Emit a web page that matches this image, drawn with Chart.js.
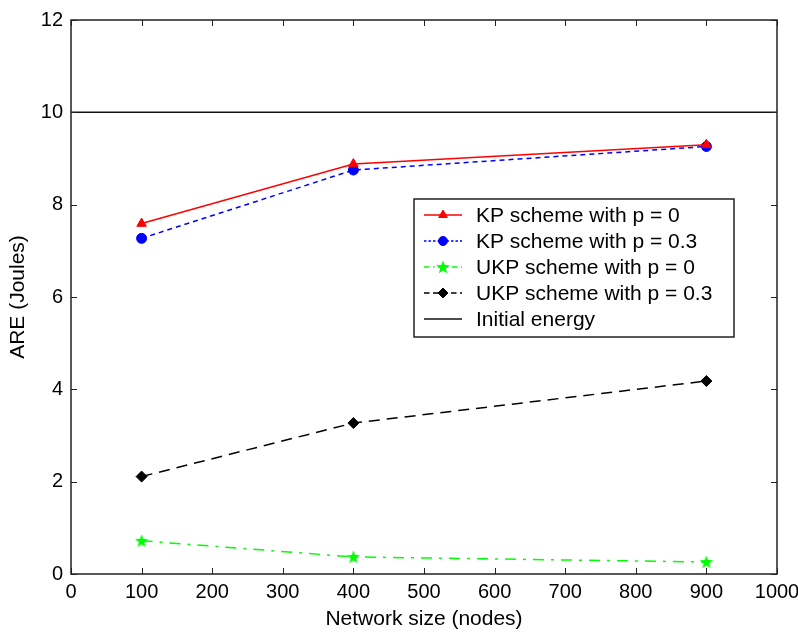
<!DOCTYPE html>
<html>
<head>
<meta charset="utf-8">
<title>ARE vs network size</title>
<script src="https://cdn.jsdelivr.net/npm/chart.js@4.4.1/dist/chart.umd.min.js"></script>
<style>
  html, body { margin: 0; padding: 0; background: #fff; }
  canvas { display: block; }
</style>
</head>
<body>
<canvas id="areChart" width="798" height="633"></canvas>
<script>
// ====== Data ======
const networkSize = [100, 400, 900];
const kpP0 = [7.59, 8.88, 9.30];
const kpP03 = [7.27, 8.75, 9.26];
const ukpP0 = [0.72, 0.37, 0.26];
const ukpP03 = [2.11, 3.27, 4.18];
const energyX = [0, 1000];
const energyY = [10, 10];

const xTicks = [0, 100, 200, 300, 400, 500, 600, 700, 800, 900, 1000];
const yTicks = [0, 2, 4, 6, 8, 10, 12];

const FONT = "'Liberation Sans', Arial, sans-serif";

const toPoints = (xs, ys) => xs.map((x, i) => ({ x, y: ys[i] }));

// filled five point star used as the green marker
const makeStar = (color) => {
  const c = document.createElement("canvas");
  c.width = 16;
  c.height = 16;
  const g = c.getContext("2d");
  g.fillStyle = color;
  g.beginPath();
  for (let i = 0; i < 10; i++) {
    const r = i % 2 === 0 ? 7 : 3;
    const a = -Math.PI / 2 + (i * Math.PI) / 5;
    const px = 8 + r * Math.cos(a);
    const py = 8.5 + r * Math.sin(a);
    if (i === 0) g.moveTo(px, py);
    else g.lineTo(px, py);
  }
  g.closePath();
  g.fill();
  return c;
};
const greenStar = makeStar("#00ff00");

const datasets = [
  {
    label: "KP scheme with p = 0",
    data: toPoints(networkSize, kpP0),
    borderColor: "#ff0000",
    backgroundColor: "#ff0000",
    pointStyle: "triangle",
    pointRadius: 5.5,
    borderDash: [],
  },
  {
    label: "KP scheme with p = 0.3",
    data: toPoints(networkSize, kpP03),
    borderColor: "#0000ff",
    backgroundColor: "#0000ff",
    pointStyle: "circle",
    pointRadius: 5,
    borderDash: [5, 4],
  },
  {
    label: "UKP scheme with p = 0",
    data: toPoints(networkSize, ukpP0),
    borderColor: "#00ff00",
    backgroundColor: "#00ff00",
    pointStyle: greenStar,
    pointRadius: 7,
    borderDash: [11, 7, 3, 7],
  },
  {
    label: "UKP scheme with p = 0.3",
    data: toPoints(networkSize, ukpP03),
    borderColor: "#000000",
    backgroundColor: "#000000",
    pointStyle: "rectRot",
    pointRadius: 5.5,
    borderDash: [11, 7],
  },
  {
    label: "Initial energy",
    data: toPoints(energyX, energyY),
    borderColor: "#111111",
    backgroundColor: "#111111",
    pointStyle: false,
    pointRadius: 0,
    borderDash: [],
  },
];

// ====== Frame, inward ticks and legend box ======
const framePlugin = {
  id: "frame",
  afterDraw(chart) {
    const { ctx, chartArea: a, scales } = chart;
    const tick = 6;
    ctx.save();
    ctx.strokeStyle = "#222";
    ctx.lineWidth = 1.5;
    ctx.strokeRect(a.left, a.top, a.right - a.left, a.bottom - a.top);
    ctx.beginPath();
    xTicks.forEach((v) => {
      const px = Math.round(scales.x.getPixelForValue(v)) + 0.5;
      ctx.moveTo(px, a.bottom);
      ctx.lineTo(px, a.bottom - tick);
      ctx.moveTo(px, a.top);
      ctx.lineTo(px, a.top + tick);
    });
    yTicks.forEach((v) => {
      const py = Math.round(scales.y.getPixelForValue(v)) + 0.5;
      ctx.moveTo(a.left, py);
      ctx.lineTo(a.left + tick, py);
      ctx.moveTo(a.right, py);
      ctx.lineTo(a.right - tick, py);
    });
    ctx.lineWidth = 1;
    ctx.stroke();

    // legend
    const box = { left: 414, top: 199, width: 320, height: 138 };
    ctx.fillStyle = "#fff";
    ctx.fillRect(box.left, box.top, box.width, box.height);
    ctx.strokeStyle = "#222";
    ctx.lineWidth = 1.5;
    ctx.strokeRect(box.left, box.top, box.width, box.height);

    const drawPoint = Chart.helpers && Chart.helpers.drawPoint;
    ctx.font = "21px " + FONT;
    ctx.textBaseline = "middle";
    chart.data.datasets.forEach((ds, i) => {
      const y = box.top + 16 + i * 26;
      const x0 = box.left + 10;
      const x1 = box.left + 48;
      ctx.strokeStyle = ds.borderColor;
      ctx.lineWidth = 1.5;
      ctx.setLineDash(ds.borderDash.length ? ds.borderDash.map((d) => d * 0.5) : []);
      ctx.beginPath();
      ctx.moveTo(x0, y);
      ctx.lineTo(x1, y);
      ctx.stroke();
      ctx.setLineDash([]);
      if (ds.pointStyle && drawPoint) {
        ctx.fillStyle = ds.backgroundColor;
        ctx.strokeStyle = ds.borderColor;
        ctx.lineWidth = 1;
        drawPoint(ctx, { pointStyle: ds.pointStyle, radius: ds.pointRadius - 0.5, rotation: 0, borderWidth: 1 }, (x0 + x1) / 2, y);
      }
      ctx.fillStyle = "#000";
      ctx.fillText(ds.label, box.left + 62, y + 1);
    });
    ctx.restore();
  },
};

// ====== Chart ======
const areChart = new Chart(document.getElementById("areChart").getContext("2d"), {
  type: "line",
  data: {
    datasets: datasets.map((ds) => ({
      ...ds,
      borderWidth: 1.5,
      pointBorderWidth: 1,
      pointHoverRadius: ds.pointRadius,
      tension: 0,
      fill: false,
    })),
  },
  options: {
    responsive: false,
    animation: false,
    layout: { padding: { top: 19, right: 21, left: 0, bottom: 0 } },
    plugins: { legend: { display: false }, tooltip: { enabled: false } },
    scales: {
      x: {
        type: "linear",
        min: 0,
        max: 1000,
        afterFit: (s) => {
          s.height = 59;
          s.paddingLeft = 0;
          s.paddingRight = 0;
        },
        afterBuildTicks: (s) => { s.ticks = xTicks.map((v) => ({ value: v })); },
        grid: { display: false, drawTicks: false },
        border: { display: false },
        ticks: {
          color: "#000",
          padding: 6,
          font: { family: FONT, size: 20 },
          callback: (v) => String(v),
        },
        title: {
          display: true,
          text: "Network size (nodes)",
          color: "#000",
          padding: { top: 0, bottom: 1 },
          font: { family: FONT, size: 21 },
        },
      },
      y: {
        min: 0,
        max: 12,
        afterFit: (s) => { s.width = 71; },
        afterBuildTicks: (s) => { s.ticks = yTicks.map((v) => ({ value: v })); },
        grid: { display: false, drawTicks: false },
        border: { display: false },
        ticks: {
          color: "#000",
          padding: 8,
          font: { family: FONT, size: 20 },
          callback: (v) => String(v),
        },
        title: {
          display: true,
          text: "ARE (Joules)",
          color: "#000",
          padding: { top: 6, bottom: 0 },
          font: { family: FONT, size: 21 },
        },
      },
    },
  },
  plugins: [framePlugin],
});
</script>
</body>
</html>
